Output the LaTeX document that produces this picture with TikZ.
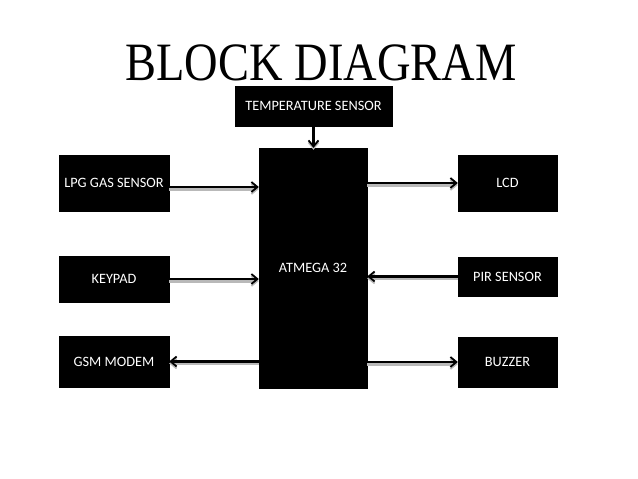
\documentclass[tikz,border=0pt]{standalone}
\usepackage{fontspec}
\setmainfont{Carlito}
\newfontfamily\titlefont{Liberation Serif}
\usetikzlibrary{arrows.meta}
\begin{document}
\begin{tikzpicture}[x=1pt,y=-1pt,
  blk/.style={fill=black,draw=black,text=white,inner sep=0pt,
    font=\fontsize{14.3}{17}\selectfont},
  conn/.style={line width=2.2pt,-{Straight Barb[length=6pt,width=10pt,line width=1.8pt]},
    preaction={draw=gray!55,line width=3.5pt,transform canvas={yshift=-2pt},-{Straight Barb[length=6pt,width=10pt,line width=1.8pt]}}}]
\useasboundingbox (0,0) rectangle (638,479);
\node[anchor=base,xscale=0.86,font=\titlefont\fontsize{54}{60}\selectfont] (title) at (321,80) {BLOCK DIAGRAM};
\node[blk,minimum width=110pt,minimum height=56pt] (lpg) at (114,183) {LPG GAS SENSOR};
\node[blk,minimum width=110pt,minimum height=46pt] (key) at (114,279) {KEYPAD};
\node[blk,minimum width=110pt,minimum height=51pt] (gsm) at (114,361.5) {GSM MODEM};
\node[blk,minimum width=157pt,minimum height=40pt] (temp) at (313.5,106) {TEMPERATURE SENSOR};
\node[blk,minimum width=108pt,minimum height=240pt] (mcu) at (313,268) {ATMEGA 32};
\node[blk,minimum width=99pt,minimum height=56pt] (lcd) at (507.5,183) {LCD};
\node[blk,minimum width=99pt,minimum height=39pt] (pir) at (507.5,276.5) {PIR SENSOR};
\node[blk,minimum width=99pt,minimum height=50pt] (buz) at (507.5,362) {BUZZER};
\draw[conn] ([yshift=-4pt]lpg.east) -- ([yshift=-4pt]lpg.east -| mcu.west);
\draw[conn] (key.east) -- (key.east -| mcu.west);
\draw[conn] (gsm.east -| mcu.west) -- (gsm.east);
\draw[conn] (temp.south) -- (temp.south |- mcu.north);
\draw[conn] (mcu.east |- lcd.west) -- (lcd.west);
\draw[conn] (pir.west) -- (pir.west -| mcu.east);
\draw[conn] (mcu.east |- buz.west) -- (buz.west);
\end{tikzpicture}
\end{document}
